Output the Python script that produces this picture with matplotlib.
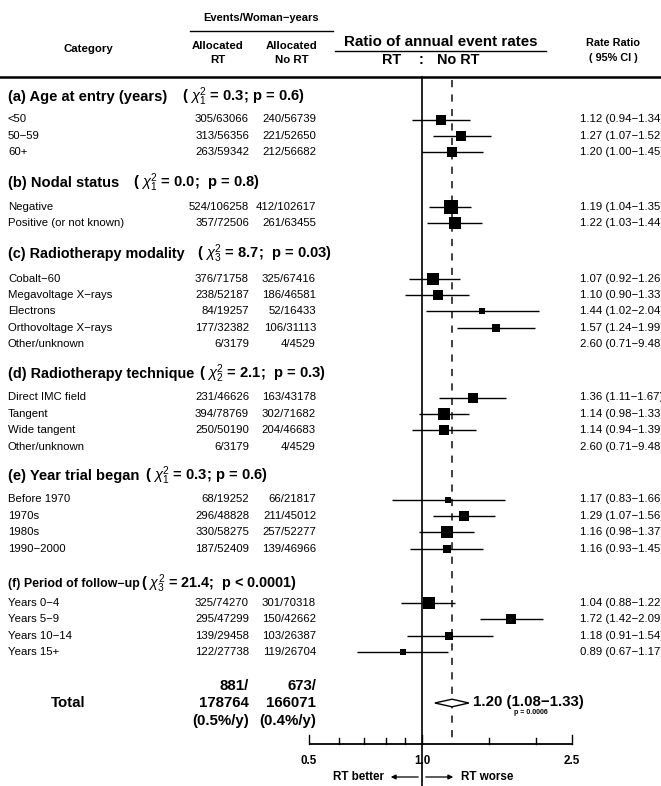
import numpy as np
import matplotlib
matplotlib.use("Agg")
import matplotlib.pyplot as plt
from matplotlib.patches import Polygon

plt.rcParams['font.family'] = ['Liberation Sans', 'DejaVu Sans']
plt.rcParams['mathtext.fontset'] = 'custom'
plt.rcParams['mathtext.rm'] = 'Liberation Sans'
plt.rcParams['mathtext.it'] = 'Liberation Sans:italic'
plt.rcParams['mathtext.bf'] = 'Liberation Sans:bold'

# ---- data ----
section_titles = ["(a) Age at entry (years)", "(b) Nodal status", "(c) Radiotherapy modality",
                  "(d) Radiotherapy technique", "(e) Year trial began", "(f) Period of follow\u2212up"]
section_tests = [r"( $\chi^2_1$ = 0.3; p = 0.6)", r"( $\chi^2_1$ = 0.0;  p = 0.8)",
                 r"( $\chi^2_3$ = 8.7;  p = 0.03)", r"( $\chi^2_2$ = 2.1;  p = 0.3)",
                 r"( $\chi^2_1$ = 0.3; p = 0.6)", r"( $\chi^2_3$ = 21.4;  p < 0.0001)"]
labels_a = ["<50", "50\u221259", "60+"]
labels_b = ["Negative", "Positive (or not known)"]
labels_c = ["Cobalt\u221260", "Megavoltage X\u2212rays", "Electrons", "Orthovoltage X\u2212rays", "Other/unknown"]
labels_d = ["Direct IMC field", "Tangent", "Wide tangent", "Other/unknown"]
labels_e = ["Before 1970", "1970s", "1980s", "1990\u22122000"]
labels_f = ["Years 0\u22124", "Years 5\u22129", "Years 10\u221214", "Years 15+"]

rt_events = [[305, 313, 263], [524, 357], [376, 238, 84, 177, 6], [231, 394, 250, 6],
             [68, 296, 330, 187], [325, 295, 139, 122]]
rt_years = [[63066, 56356, 59342], [106258, 72506], [71758, 52187, 19257, 32382, 3179],
            [46626, 78769, 50190, 3179], [19252, 48828, 58275, 52409], [74270, 47299, 29458, 27738]]
nort_events = [[240, 221, 212], [412, 261], [325, 186, 52, 106, 4], [163, 302, 204, 4],
               [66, 211, 257, 139], [301, 150, 103, 119]]
nort_years = [[56739, 52650, 56682], [102617, 63455], [67416, 46581, 16433, 31113, 4529],
              [43178, 71682, 46683, 4529], [21817, 45012, 52277, 46966], [70318, 42662, 26387, 26704]]

ratio = [[1.12, 1.27, 1.20], [1.19, 1.22], [1.07, 1.10, 1.44, 1.57, 2.60], [1.36, 1.14, 1.14, 2.60],
         [1.17, 1.29, 1.16, 1.16], [1.04, 1.72, 1.18, 0.89]]
ci_low = [[0.94, 1.07, 1.00], [1.04, 1.03], [0.92, 0.90, 1.02, 1.24, 0.71], [1.11, 0.98, 0.94, 0.71],
          [0.83, 1.07, 0.98, 0.93], [0.88, 1.42, 0.91, 0.67]]
ci_high = [[1.34, 1.52, 1.45], [1.35, 1.44], [1.26, 1.33, 2.04, 1.99, 9.48], [1.67, 1.33, 1.39, 9.48],
           [1.66, 1.56, 1.37, 1.45], [1.22, 2.09, 1.54, 1.17]]
row_labels = [labels_a, labels_b, labels_c, labels_d, labels_e, labels_f]

total_rt = ("881/", "178764", "(0.5%/y)")
total_nort = ("673/", "166071", "(0.4%/y)")
total_ratio, total_low, total_high = 1.20, 1.08, 1.33
total_p = "p = 0.0006"

axis_ticks = [0.5, 0.6, 0.7, 0.8, 0.9, 1.0, 1.5, 2.0, 2.5]
axis_labels = {0.5: "0.5", 1.0: "1.0", 2.5: "2.5"}

# ---- layout (pixel units) ----
W, H = 661, 786
fig = plt.figure(figsize=(W / 100, H / 100), dpi=100)
lay = fig.add_axes([0, 0, 1, 1])
lay.set_xlim(0, W)
lay.set_ylim(H, 0)
lay.axis('off')

x_lo_px, x_hi_px = 309, 572
fx = fig.add_axes([x_lo_px / W, 0, (x_hi_px - x_lo_px) / W, 1])
fx.set_xscale('log')
fx.set_xlim(0.5, 2.5)
fx.set_ylim(H, 0)
fx.axis('off')

header_y = [97, 183, 254, 374, 476, 584]
first_row = [22.5, 23.5, 24.5, 23.5, 23.5, 19]
title_size = [10.6, 10.6, 10.4, 10.4, 10.6, 8.9]
test_size = [10.6, 10.6, 10.6, 10.6, 10.6, 10.4]
row_step = 16.4
row_fs = 8.2
rt_right, nort_right, rr_left = 249, 316, 580
test_x = [182, 133, 197, 199, 145, 141]
box_k = 3.8 * 72 / 100  # marker side (pt) per unit of 1/log-CI width

# column headers
hdr_fs = 8.2
lay.text(261, 18, "Events/Woman\u2212years", ha='center', va='center', fontsize=8.0, fontweight='bold')
lay.plot([190, 333], [31, 31], color='black', lw=1.0)
for cx, sub in [(218, "RT"), (292, "No RT")]:
    lay.text(cx, 46, "Allocated", ha='center', va='center', fontsize=hdr_fs, fontweight='bold')
    lay.text(cx, 60, sub, ha='center', va='center', fontsize=hdr_fs, fontweight='bold')
lay.text(88, 49, "Category", ha='center', va='center', fontsize=hdr_fs, fontweight='bold')
lay.text(441, 42, "Ratio of annual event rates", ha='center', va='center', fontsize=10.9, fontweight='bold')
lay.plot([335, 546], [51, 51], color='black', lw=1.0)
lay.text(401, 60, "RT", ha='right', va='center', fontsize=10.4, fontweight='bold')
lay.text(421, 60, ":", ha='center', va='center', fontsize=10.4, fontweight='bold')
lay.text(437, 60, "No RT", ha='left', va='center', fontsize=10.4, fontweight='bold')
lay.text(613, 43, "Rate Ratio", ha='center', va='center', fontsize=7.8, fontweight='bold')
lay.text(613, 58, "( 95% CI )", ha='center', va='center', fontsize=7.8, fontweight='bold')
lay.plot([0, W], [77, 77], color='black', lw=1.8)

# reference lines
fx.plot([1.0, 1.0], [77, H], color='black', lw=1.2, clip_on=False)
fx.plot([total_ratio, total_ratio], [80, 740], color='#333333', lw=1.3,
        dashes=(4, 4), clip_on=False)

# sections
for s in range(len(section_titles)):
    hy = header_y[s]
    lay.text(8, hy, section_titles[s], ha='left', va='center', fontsize=title_size[s], fontweight='bold')
    lay.text(test_x[s], hy, section_tests[s], ha='left', va='center', fontsize=test_size[s], fontweight='bold')
    for i, lab in enumerate(row_labels[s]):
        y = hy + first_row[s] + i * row_step
        lay.text(8, y, lab, ha='left', va='center', fontsize=row_fs)
        lay.text(rt_right, y, f"{rt_events[s][i]}/{rt_years[s][i]}", ha='right', va='center', fontsize=row_fs)
        lay.text(nort_right, y, f"{nort_events[s][i]}/{nort_years[s][i]}", ha='right', va='center', fontsize=row_fs)
        r, lo, hi = ratio[s][i], ci_low[s][i], ci_high[s][i]
        lay.text(rr_left, y, f"{r:.2f} ({lo:.2f}\u2212{hi:.2f})", ha='left', va='center', fontsize=row_fs)
        if 0.5 <= r <= 2.5:
            fx.plot([lo, hi], [y, y], color='black', lw=1.0, clip_on=False, solid_capstyle='butt')
            fx.plot([r], [y], marker='s', color='black', markersize=box_k / np.log(hi / lo),
                    markeredgewidth=0, clip_on=False)

# overall total
ty = 703
lay.text(68, ty, "Total", ha='center', va='center', fontsize=10.8, fontweight='bold')
for k, dy in enumerate([-17, 0, 18]):
    lay.text(rt_right, ty + dy, total_rt[k], ha='right', va='center', fontsize=10.8, fontweight='bold')
    lay.text(nort_right, ty + dy, total_nort[k], ha='right', va='center', fontsize=10.8, fontweight='bold')
dia_h = 3.8
diamond = Polygon([(total_low, ty), (total_ratio, ty - dia_h), (total_high, ty), (total_ratio, ty + dia_h)],
                  closed=True, facecolor='white', edgecolor='black', lw=1.0, clip_on=False, zorder=3)
fx.add_patch(diamond)
lay.text(473, ty - 1, f"{total_ratio:.2f} ({total_low:.2f}\u2212{total_high:.2f})", ha='left', va='center',
         fontsize=10.8, fontweight='bold')
lay.text(531, ty + 10, total_p, ha='center', va='center', fontsize=5, fontweight='bold')

# x axis
axis_y = 744
fx.plot([0.5, 2.5], [axis_y, axis_y], color='black', lw=1.3, clip_on=False, solid_capstyle='butt')
for t in axis_ticks:
    ln = 9 if t in axis_labels else 6
    fx.plot([t, t], [axis_y, axis_y - ln], color='black', lw=1.0, clip_on=False)
    if t in axis_labels:
        fx.text(t, 761, axis_labels[t], ha='center', va='center', fontsize=8.4, fontweight='bold')

# direction labels
lay.annotate("", xy=(388, 777), xytext=(421, 777),
             arrowprops=dict(arrowstyle='-|>', color='black', lw=0.9, mutation_scale=7))
lay.annotate("", xy=(456, 777), xytext=(423, 777),
             arrowprops=dict(arrowstyle='-|>', color='black', lw=0.9, mutation_scale=7))
lay.text(384, 777, "RT better", ha='right', va='center', fontsize=8.4, fontweight='bold')
lay.text(461, 777, "RT worse", ha='left', va='center', fontsize=8.4, fontweight='bold')

fig.savefig("out.png", dpi=100)
